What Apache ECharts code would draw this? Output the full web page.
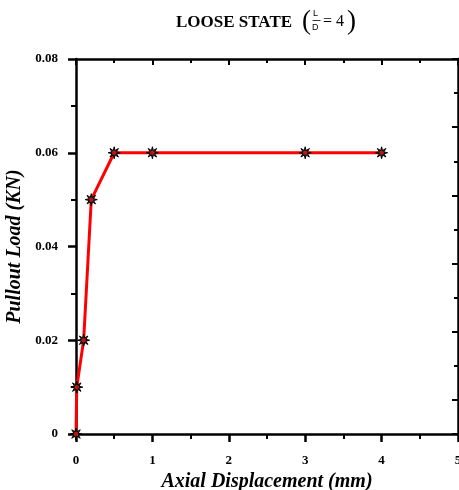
<!DOCTYPE html>
<html>
<head>
<meta charset="utf-8">
<script src="https://cdn.jsdelivr.net/npm/echarts@6/dist/echarts.min.js"></script>
<style>html,body{margin:0;padding:0;background:#fff}#c{width:459px;height:490px}</style>
</head>
<body>
<div id="c"></div>
<script>
var displacement = [0, 0.01, 0.1, 0.2, 0.5, 1, 3, 4];
var load = [0, 0.01, 0.02, 0.05, 0.06, 0.06, 0.06, 0.06];
var xTitle = 'Axial Displacement (mm)';
var yTitle = 'Pullout Load (KN)';

var pts = displacement.map(function (d, i) { return [d, load[i]]; });
var F = 'Liberation Serif';
var star = 'path://M20 10 L13.7 11.53 L17.07 17.07 L11.53 13.7 L10 20 L8.47 13.7 L2.93 17.07 L6.3 11.53 L0 10 L6.3 8.47 L2.93 2.93 L8.47 6.3 L10 0 L11.53 6.3 L17.07 2.93 L13.7 8.47 Z';
var line = { show: true, onZero: false, lineStyle: { color: '#000', width: 2.5 } };
var gridBox = { left: 76, right: 1, top: 59, bottom: 56, outerBoundsMode: 'none', containLabel: false };

var chart = echarts.init(document.getElementById('c'));
chart.setOption({
  animation: false,
  backgroundColor: '#fff',
  grid: [Object.assign({}, gridBox), Object.assign({}, gridBox)],
  xAxis: [{
    type: 'value', gridIndex: 0, min: 0, max: 5, interval: 1, position: 'bottom',
    axisLine: line,
    axisTick: { show: true, inside: false, length: 8, lineStyle: { color: '#000', width: 2.5 } },
    minorTick: { show: true, splitNumber: 2, length: 5, lineStyle: { color: '#000', width: 2 } },
    splitLine: { show: false },
    axisLabel: { color: '#000', fontFamily: F, fontWeight: 'bold', fontSize: 13, margin: 20 },
    name: xTitle, nameLocation: 'middle', nameGap: 35,
    nameTextStyle: { color: '#000', fontFamily: F, fontWeight: 'bold', fontStyle: 'italic', fontSize: 20 }
  }, {
    type: 'value', gridIndex: 0, min: 0, max: 5, interval: 1, position: 'top',
    axisLine: line,
    axisTick: { show: true, inside: true, length: 6, lineStyle: { color: '#000', width: 2 } },
    minorTick: { show: true, splitNumber: 2, length: 4, lineStyle: { color: '#000', width: 2 } },
    splitLine: { show: false }, axisLabel: { show: false }
  }, {
    type: 'value', gridIndex: 1, min: 0, max: 5, position: 'bottom',
    axisLine: { show: false, onZero: false }, axisTick: { show: false }, axisLabel: { show: false }, splitLine: { show: false }
  }],
  yAxis: [{
    type: 'value', gridIndex: 0, min: 0, max: 0.08, interval: 0.02, position: 'left',
    axisLine: line,
    axisTick: { show: true, inside: false, length: 8, lineStyle: { color: '#000', width: 2.5 } },
    minorTick: { show: true, splitNumber: 2, length: 5, lineStyle: { color: '#000', width: 2 } },
    splitLine: { show: false },
    axisLabel: { color: '#000', fontFamily: F, fontWeight: 'bold', fontSize: 13, margin: 18,
      formatter: function (v) { return v === 0 ? '0' : v.toFixed(2); } },
    name: yTitle, nameLocation: 'middle', nameGap: 50, nameRotate: 90,
    nameTextStyle: { color: '#000', fontFamily: F, fontWeight: 'bold', fontStyle: 'italic', fontSize: 20 }
  }, {
    type: 'value', gridIndex: 0, min: 0, max: 11, interval: 2, inverse: true, position: 'right',
    axisLine: line,
    axisTick: { show: true, inside: true, length: 6, lineStyle: { color: '#000', width: 2 } },
    splitLine: { show: false }, axisLabel: { show: false }
  }, {
    type: 'value', gridIndex: 1, min: 0, max: 11, interval: 2, position: 'right',
    axisLine: { show: false, onZero: false },
    axisTick: { show: true, inside: true, length: 4, lineStyle: { color: '#000', width: 2 } },
    splitLine: { show: false }, axisLabel: { show: false }
  }],
  graphic: [
    { type: 'text', left: 176, top: 14, style: { text: 'LOOSE STATE', font: 'bold 17px "Liberation Serif"', fill: '#000' } },
    { type: 'text', left: 302, top: 8, style: { text: '(', font: '27px "Liberation Serif"', fill: '#000' } },
    { type: 'text', left: 313, top: 9, style: { text: 'L', font: '9px "Liberation Sans"', fill: '#000' } },
    { type: 'line', shape: { x1: 312.5, y1: 20.5, x2: 320.5, y2: 20.5 }, style: { stroke: '#000', lineWidth: 0.8 } },
    { type: 'text', left: 312, top: 23, style: { text: 'D', font: '9px "Liberation Sans"', fill: '#000' } },
    { type: 'text', left: 323, top: 14, style: { text: '= 4', font: '16px "Liberation Serif"', fill: '#000' } },
    { type: 'text', left: 347, top: 8, style: { text: ')', font: '27px "Liberation Serif"', fill: '#000' } }
  ],
  series: [{
    type: 'line', xAxisIndex: 0, yAxisIndex: 0, data: pts,
    lineStyle: { color: '#ff0000', width: 3 },
    symbol: star, symbolSize: 12,
    itemStyle: { color: '#333', borderColor: '#000', borderWidth: 1 },
    z: 3
  }, {
    type: 'scatter', xAxisIndex: 0, yAxisIndex: 0, data: pts,
    symbol: 'circle', symbolSize: 4,
    itemStyle: { color: '#ff0000' }, z: 4
  }]
});
</script>
</body>
</html>
